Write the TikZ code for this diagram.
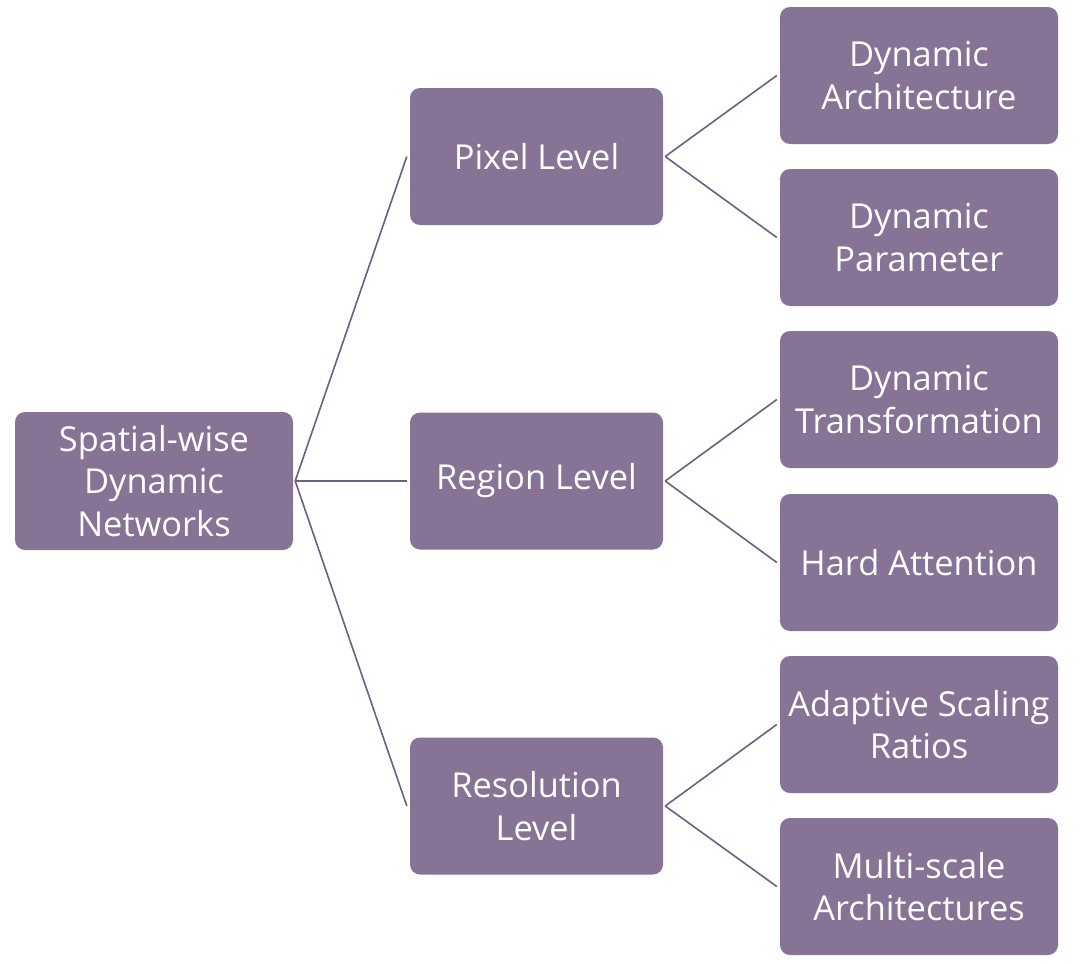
\documentclass[tikz,border=0pt]{standalone}
\usepackage{fontspec}
\setmainfont[Ligatures=NoCommon]{Open Sans}
\definecolor{boxfill}{HTML}{867396}
\definecolor{linecol}{HTML}{6E5E80}
\begin{document}
\begin{tikzpicture}[x=1pt,y=-1pt,
  box/.style={draw=none,fill=boxfill,rounded corners=10pt,text=white,align=center,
    inner sep=0pt,font=\fontsize{34.4}{42.5}\selectfont},
  rootbox/.style={box,minimum width=278pt,minimum height=138pt},
  midbox/.style={box,minimum width=253pt,minimum height=137pt},
  leafbox/.style={box,minimum width=278pt,minimum height=137pt},
  conn/.style={draw=linecol,line width=1.6pt}]
\useasboundingbox (0,0) rectangle (1080,964);
\node[rootbox] (root) at (154,481) {Spatial-wise\\Dynamic\\Networks};
\node[midbox] (pix) at (536.5,156.5) {Pixel Level};
\node[midbox] (reg) at (536.5,481) {Region Level};
\node[midbox] (res) at (536.5,806) {Resolution\\Level};
\node[leafbox] (l1) at (919,75.5) {Dynamic\\Architecture};
\node[leafbox] (l2) at (919,237.5) {Dynamic\\Parameter};
\node[leafbox] (l3) at (919,399.5) {Dynamic\\Transformation};
\node[leafbox] (l4) at (919,562.5) {Hard Attention};
\node[leafbox] (l5) at (919,724.5) {Adaptive Scaling\\Ratios};
\node[leafbox] (l6) at (919,886.5) {Multi-scale\\Architectures};
\coordinate (rootR) at ([xshift=2pt]root.east);
\draw[conn] (rootR) -- ([xshift=-3pt]pix.west);
\draw[conn] (rootR) -- ([xshift=-3pt]reg.west);
\draw[conn] (rootR) -- ([xshift=-3pt]res.west);
\foreach \m/\a/\b in {pix/l1/l2,reg/l3/l4,res/l5/l6}{
  \draw[conn] ([xshift=2pt]\m.east) -- ([xshift=-3pt]\a.west);
  \draw[conn] ([xshift=2pt]\m.east) -- ([xshift=-3pt]\b.west);
}
\end{tikzpicture}
\end{document}
